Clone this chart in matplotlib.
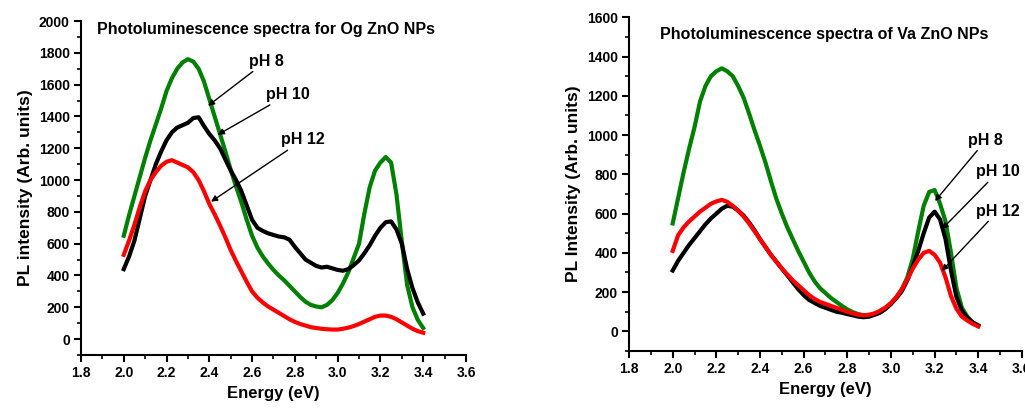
import matplotlib
matplotlib.use("Agg")
import matplotlib.pyplot as plt
from matplotlib.ticker import MultipleLocator, FormatStrFormatter

plt.rcParams["font.family"] = ["Liberation Sans", "DejaVu Sans"]
plt.rcParams["font.weight"] = "bold"

# energy points (eV)
energy = [2.000, 2.025, 2.050, 2.075, 2.100, 2.125, 2.150, 2.175, 2.200, 2.225,
          2.250, 2.275, 2.300, 2.325, 2.350, 2.375, 2.400, 2.425, 2.450, 2.475,
          2.500, 2.525, 2.550, 2.575, 2.600, 2.625, 2.650, 2.675, 2.700, 2.725,
          2.750, 2.775, 2.800, 2.825, 2.850, 2.875, 2.900, 2.925, 2.950, 2.975,
          3.000, 3.025, 3.050, 3.075, 3.100, 3.125, 3.150, 3.175, 3.200, 3.225,
          3.250, 3.275, 3.300, 3.325, 3.350, 3.375, 3.400]

# Og ZnO NPs (left panel)
og_ph8 = [650, 780, 900, 1020, 1140, 1250, 1350, 1450, 1560, 1640,
          1700, 1740, 1760, 1745, 1700, 1620, 1510, 1400, 1290, 1180,
          1065, 960, 860, 750, 650, 575, 520, 475, 435, 400,
          370, 335, 300, 265, 235, 215, 205, 200, 215, 245,
          290, 350, 420, 510, 600, 790, 955, 1060, 1110, 1145,
          1110, 910, 615, 340, 200, 120, 70]
og_ph10 = [440, 520, 620, 760, 900, 1000, 1100, 1180, 1250, 1300,
           1330, 1345, 1360, 1390, 1395, 1340, 1290, 1250, 1200, 1130,
           1060, 1000, 930, 840, 750, 700, 680, 665, 655, 645,
           640, 625, 580, 540, 500, 480, 460, 450, 455, 445,
           435, 430, 440, 465, 495, 540, 590, 650, 700, 735,
           740, 690, 600, 440, 320, 230, 160]
og_ph12 = [530, 620, 720, 830, 930, 1000, 1050, 1090, 1115, 1125,
           1110, 1095, 1080, 1050, 1000, 930, 850, 785, 715, 640,
           560, 490, 425, 360, 300, 260, 230, 205, 185, 165,
           145, 125, 108, 95, 85, 75, 70, 65, 62, 60,
           60, 65, 72, 82, 95, 110, 125, 140, 148, 148,
           140, 125, 105, 85, 65, 50, 40]

# Va ZnO NPs (right panel)
va_ph8 = [550, 680, 810, 930, 1040, 1170, 1250, 1300, 1325, 1340,
          1325, 1300, 1250, 1190, 1110, 1025, 945, 860, 765, 675,
          600, 530, 470, 410, 355, 300, 255, 220, 195, 170,
          150, 130, 112, 98, 88, 82, 80, 85, 97, 115,
          140, 175, 215, 275, 370, 510, 640, 710, 720, 650,
          560, 400, 220, 120, 75, 45, 30]
va_ph10 = [310, 360, 400, 440, 475, 510, 545, 575, 600, 625,
           640, 635, 615, 590, 555, 515, 470, 430, 390, 355,
           320, 285, 250, 215, 185, 160, 145, 130, 120, 110,
           100, 95, 88, 82, 75, 72, 75, 85, 95, 115,
           140, 170, 205, 260, 330, 410, 500, 580, 610, 570,
           470, 310, 175, 105, 70, 45, 30]
va_ph12 = [410, 490, 530, 560, 585, 610, 630, 650, 662, 670,
           660, 640, 615, 585, 550, 510, 470, 430, 390, 355,
           320, 290, 260, 235, 210, 185, 165, 150, 140, 130,
           120, 110, 100, 92, 85, 82, 85, 92, 105, 122,
           145, 175, 215, 265, 320, 365, 400, 410, 390, 350,
           275, 180, 115, 75, 55, 38, 25]

labels = ["pH 8", "pH 10", "pH 12"]
colors = ["#008000", "black", "#ff0000"]

# (arrow head x, y), (label x, y) in data units
og_arrows = [((2.394, 1467), (2.585, 1700)),
             ((2.44, 1285), (2.665, 1490)),
             ((2.408, 864), (2.735, 1205))]
va_arrows = [((3.202, 664), (3.355, 935)),
             ((3.233, 520), (3.39, 774)),
             ((3.233, 308), (3.39, 575))]


def style_axes(ax, ymax, ylabel):
    ax.set_xlim(1.8, 3.6)
    ax.set_ylim(-100, ymax)
    for s in ["top", "right"]:
        ax.spines[s].set_visible(False)
    ax.spines["left"].set_linewidth(1.5)
    ax.spines["bottom"].set_linewidth(1.5)
    ax.xaxis.set_major_locator(MultipleLocator(0.2))
    ax.xaxis.set_minor_locator(MultipleLocator(0.1))
    ax.xaxis.set_major_formatter(FormatStrFormatter("%.1f"))
    ax.yaxis.set_major_locator(MultipleLocator(200))
    ax.yaxis.set_minor_locator(MultipleLocator(100))
    ax.tick_params(which="major", direction="out", length=5, width=1.5,
                   labelsize=10, pad=3)
    ax.tick_params(which="minor", direction="out", length=3, width=1.2)
    for lab in ax.get_xticklabels() + ax.get_yticklabels():
        lab.set_fontweight("bold")
    ax.set_xlabel("Energy (eV)", fontsize=12, fontweight="bold")
    ax.set_ylabel(ylabel, fontsize=12.5, fontweight="bold")


fig = plt.figure(figsize=(10.25, 4.09), dpi=100)
ax1 = fig.add_axes([0.079, 0.132, 0.3756, 0.8166])
ax2 = fig.add_axes([0.6137, 0.1418, 0.3833, 0.8159])

for ys, c in zip([og_ph8, og_ph10, og_ph12], colors):
    ax1.plot(energy, ys, color=c, lw=3)
for ys, c in zip([va_ph8, va_ph10, va_ph12], colors):
    ax2.plot(energy, ys, color=c, lw=3)

style_axes(ax1, 2000, "PL intensity (Arb. units)")
style_axes(ax2, 1600, "PL Intensity (Arb. units)")

ax1.text(1.875, 1945, "Photoluminescence spectra for Og ZnO NPs",
         fontsize=11.5, fontweight="bold", va="center")
ax2.text(1.94, 1510, "Photoluminescence spectra of Va ZnO NPs",
         fontsize=11.5, fontweight="bold", va="center")

for ax, arrows in [(ax1, og_arrows), (ax2, va_arrows)]:
    for lab, (head, tail) in zip(labels, arrows):
        ax.annotate(lab, xy=head, xytext=tail, fontsize=11.5,
                    fontweight="bold", ha="left", va="bottom",
                    arrowprops=dict(arrowstyle="-|>", color="black",
                                    lw=1.0, mutation_scale=9,
                                    shrinkA=0, shrinkB=0))

fig.savefig("out.png", dpi=100)
